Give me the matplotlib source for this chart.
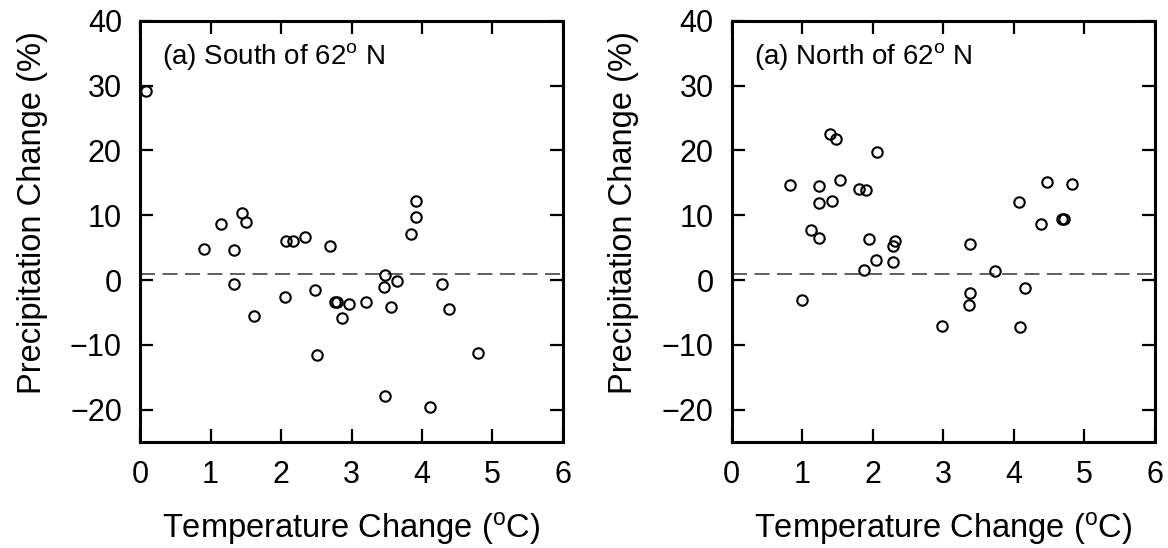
import matplotlib
matplotlib.use("Agg")
import matplotlib.pyplot as plt

plt.rcParams["font.family"] = ["Liberation Sans", "DejaVu Sans"]
plt.rcParams["mathtext.fontset"] = "custom"
plt.rcParams["mathtext.rm"] = "Liberation Sans"
plt.rcParams["mathtext.it"] = "Liberation Sans"

# South of 62 N: (temperature change, precipitation change)
south_dt = [0.09, 0.91, 1.15, 1.33, 1.33, 1.44, 1.51, 1.62, 2.05, 2.07, 2.17,
            2.34, 2.48, 2.51, 2.69, 2.76, 2.79, 2.87, 2.96, 3.21, 3.47, 3.46,
            3.64, 3.56, 3.48, 3.85, 3.92, 3.92, 4.11, 4.29, 4.39, 4.79]
south_dp = [29.2, 4.8, 8.7, 4.7, -0.55, 10.4, 8.9, -5.5, -2.6, 6.1, 6.1,
            6.6, -1.6, -11.5, 5.3, -3.3, -3.3, -5.8, -3.7, -3.3, 0.8, -1.0,
            -0.2, -4.2, -17.8, 7.1, 9.8, 12.2, -19.6, -0.6, -4.5, -11.3]

# North of 62 N
north_dt = [1.39, 1.48, 2.06, 0.83, 1.24, 1.54, 1.80, 1.91, 1.24, 1.42, 1.12,
            1.24, 1.94, 2.31, 2.29, 2.05, 2.28, 1.875, 0.99, 2.98, 3.38, 3.73,
            3.38, 3.36, 4.16, 4.09, 4.07, 4.38, 4.47, 4.83, 4.68, 4.71]
north_dp = [22.6, 21.8, 19.75, 14.7, 14.5, 15.5, 14.05, 13.85, 11.9, 12.2, 7.75,
            6.5, 6.35, 6.05, 5.2, 3.1, 2.8, 1.5, -3.0, -7.1, 5.6, 1.45,
            -2.05, -3.9, -1.2, -7.2, 12.05, 8.7, 15.1, 14.8, 9.45, 9.5]

ref_line = 1.0
x_ticks = [0, 1, 2, 3, 4, 5, 6]
y_ticks = [-20, -10, 0, 10, 20, 30, 40]
panel_titles = ["(a) South of 62$^{\\rm o}$ N", "(a) North of 62$^{\\rm o}$ N"]

fig = plt.figure(figsize=(11.68, 5.48), dpi=100)
ax1 = fig.add_axes([0.1199, 0.193, 0.3621, 0.7692])
ax2 = fig.add_axes([0.6265, 0.193, 0.3624, 0.7692])

for ax, xs, ys, title in [(ax1, south_dt, south_dp, panel_titles[0]),
                          (ax2, north_dt, north_dp, panel_titles[1])]:
    ax.axhline(ref_line, color="#444444", lw=1.2, ls=(0, (9, 4.5)), zorder=1)
    ax.plot(xs, ys, "o", ms=7.5, mfc="none", mec="black", mew=1.5, zorder=2)
    ax.set_xlim(0, 6)
    ax.set_ylim(-25, 40)
    ax.set_xticks(x_ticks)
    ax.set_yticks(y_ticks)
    ax.tick_params(direction="in", length=9.5, width=1.6, labelsize=22,
                   top=True, right=True, pad=13)
    ax.tick_params(axis="x", pad=13)
    for sp in ax.spines.values():
        sp.set_linewidth(2.2)
    ax.set_xlabel("Temperature Change ($^{\\rm o}$C)", fontsize=23.5, labelpad=14)
    ax.set_ylabel("Precipitation Change (%)", fontsize=23.5, labelpad=16, y=0.545)
    ax.text(0.052, 0.952, title, transform=ax.transAxes, fontsize=20,
            ha="left", va="top")

fig.savefig("out.png", dpi=100)
